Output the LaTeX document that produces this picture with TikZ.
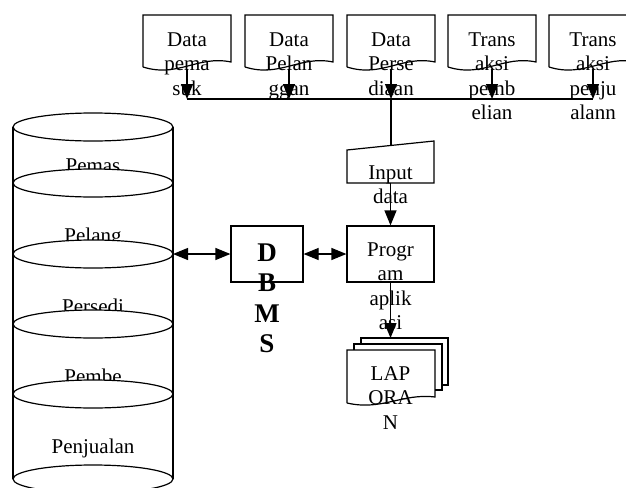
\documentclass[tikz,border=0pt]{standalone}
\usepackage{fontspec}
\setmainfont{Liberation Serif}
\usetikzlibrary{arrows.meta}
\tikzset{
    txt/.style={align=center, inner sep=0pt, font=\fontsize{10.5}{12.25}\selectfont},
    bold/.style={align=center, inner sep=0pt, font=\fontsize{13.5}{15.2}\selectfont\bfseries},
    box/.style={draw, inner sep=0pt, minimum width=#1, minimum height=28pt},
    flow/.style={-{Triangle[length=7.5pt,width=6pt]}},
    twoway/.style={{Triangle[length=7.5pt,width=6pt]}-{Triangle[length=7.5pt,width=6pt]}},
    disk/.style={draw, fill=white},
}
\begin{document}
\begin{tikzpicture}[x=0.5pt, y=-0.5pt, line width=0.6pt]
    \path[use as bounding box] (0,0) rectangle (626,487);
    \clip (0,0) rectangle (626,487);

    % input documents along the top
    \foreach \n/\x/\t in {1/143/{Data\\pema\\suk}, 2/245/{Data\\Pelan\\ggan},
            3/347/{Data\\Perse\\diaan}, 4/448/{Trans\\aksi\\pemb\\elian},
            5/549/{Trans\\aksi\\penju\\alann}} {
        \draw (\x,67) -- (\x,15) -- ++(88,0) -- ++(0,47)
            .. controls (\x+55,55) and (\x+35,78) .. (\x,67);
        \node[txt, anchor=north] (doc\n) at (\x+44,32) {\t};
        \coordinate (top\n) at (\x+44,69);
        \coordinate (bus\n) at (\x+44,99);
        \draw[flow] (top\n) -- (bus\n);
    }
    \draw (bus1) -- (bus5);

    % input data
    \draw (347,150) -- (434,141) -- (434,183) -- (347,183) -- cycle;
    \node[txt, anchor=north] (inptext) at (390.5,165) {Input\\data};
    \coordinate (inptop) at (391,145.5);
    \coordinate (inpbot) at (390.5,183);
    \draw (bus3) -- (inptop);

    % program and dbms
    \node[box=43.5pt] (prog) at (390.5,254) {};
    \node[txt, anchor=north] (progtext) at (390.5,242) {Progr\\am\\aplik\\asi};
    \node[box=36pt] (dbms) at (267,254) {};
    \node[bold, anchor=north] (dbmstext) at (267,243) {D\\B\\M\\S};
    \draw[flow] (inpbot) -- (prog.north);
    \draw[twoway] (dbms.east) -- (prog.west);

    % report, three sheets
    \draw (361,344) -- (361,338) -- (448,338) -- (448,385) -- (442,385);
    \draw (354,350) -- (354,344) -- (442,344) -- (442,390) -- (435,390);
    \draw (347,403) -- (347,350) -- (435,350) -- (435,397)
        .. controls (402,393) and (382,411) .. (347,403);
    \node[txt, anchor=north] (lap) at (390.5,366) {LAP\\ORA\\N};
    \coordinate (laptop) at (390.5,338);
    \draw[flow] (prog.south) -- (laptop);

    % database cylinder
    \node[txt, anchor=base] (c1) at (93,172) {Pemas};
    \node[txt, anchor=base] (c2) at (93,242) {Pelang};
    \node[txt, anchor=base] (c3) at (93,313) {Persedi};
    \node[txt, anchor=base] (c4) at (93,383) {Pembe};
    \node[txt, anchor=base] (c5) at (93,453) {Penjualan};
    \foreach \y in {127,183,254,324,394,479}
        \draw[disk] (93,\y) ellipse [x radius=80, y radius=14];
    \draw (13,127) -- (13,479);
    \draw (173,127) -- (173,479);
    \coordinate (cyl) at (173,254);
    \draw[twoway] (cyl) -- (dbms.west);
\end{tikzpicture}
\end{document}
